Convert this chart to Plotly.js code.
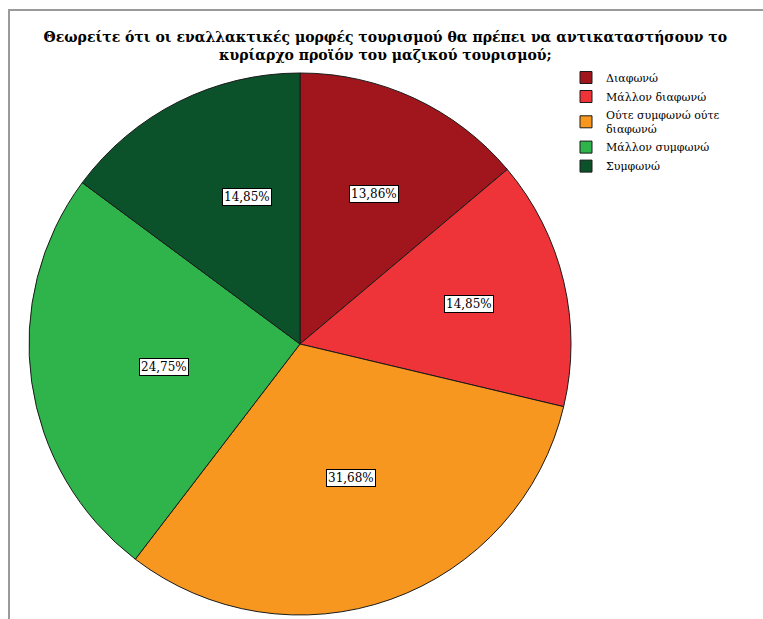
<!DOCTYPE html>
<html>
<head>
<meta charset="utf-8">
<script src="https://cdn.plot.ly/plotly-3.0.1.min.js"></script>
<style>html,body{margin:0;padding:0;background:#fff;}#chart{width:763px;height:619px;}</style>
</head>
<body>
<div id="chart"></div>
<script>
const categories = ["Διαφωνώ", "Μάλλον διαφωνώ", "Ούτε συμφωνώ ούτε<br>διαφωνώ", "Μάλλον συμφωνώ", "Συμφωνώ"];
const values = [13.86, 14.85, 31.68, 24.75, 14.85];
const colors = ["#a1161c", "#ef3439", "#f7971f", "#2eb44a", "#0b522a"];
const titleText = "Θεωρείτε ότι οι εναλλακτικές μορφές τουρισμού θα πρέπει να αντικαταστήσουν το<br>κυρίαρχο προϊόν του μαζικού τουρισμού;";

const SERIF = "DejaVu Serif";
const W = 763, H = 619;
const cx = 300, cy = 344, R = 271;

const total = values.reduce((a, b) => a + b, 0);
const annotations = [];
let cum = 0;
values.forEach((v, i) => {
  const frac = v / total;
  const alpha = Math.PI * frac;
  const mid = 2 * Math.PI * (cum + frac / 2);
  const d = 2 * R * Math.sin(alpha) / (3 * alpha);
  const px = cx + d * Math.sin(mid);
  const py = cy - d * Math.cos(mid);
  annotations.push({
    x: px / W, y: 1 - py / H, xref: "paper", yref: "paper",
    text: v.toFixed(2).replace(".", ",") + "%",
    showarrow: false,
    font: {family: SERIF, size: 12, color: "#000"},
    bgcolor: "#ffffff", bordercolor: "#000", borderwidth: 1, borderpad: 1
  });
  cum += frac;
});

const data = [{
  type: "pie",
  labels: categories,
  values: values,
  sort: false,
  direction: "clockwise",
  rotation: 0,
  marker: {colors: colors, line: {color: "#1a1a1a", width: 1}},
  textinfo: "none",
  hoverinfo: "label+percent",
  domain: {x: [(cx - R) / W, (cx + R) / W], y: [1 - (cy + R) / H, 1 - (cy - R) / H]}
}];

const layout = {
  width: W, height: H,
  margin: {l: 0, r: 0, t: 0, b: 0},
  paper_bgcolor: "#fff",
  font: {family: SERIF},
  title: {text: titleText, x: 0.505, xanchor: "center", y: 1 - 42 / H, yanchor: "top",
    font: {family: SERIF, size: 14, color: "#000", weight: "bold"}},
  showlegend: true,
  legend: {x: 566 / W, y: 1 - 63 / H, xanchor: "left", yanchor: "top",
    font: {family: SERIF, size: 11, color: "#000"},
    itemwidth: 30, tracegroupgap: 0, bgcolor: "rgba(0,0,0,0)"},
  annotations: annotations,
  shapes: [
    {type: "line", xref: "paper", yref: "paper", x0: 8 / W, x1: 1, y0: 1 - 10 / H, y1: 1 - 10 / H, line: {color: "#9a9a9a", width: 2}},
    {type: "line", xref: "paper", yref: "paper", x0: 9 / W, x1: 9 / W, y0: 1 - 10 / H, y1: 0, line: {color: "#9a9a9a", width: 2}}
  ]
};

Plotly.newPlot("chart", data, layout, {displayModeBar: false, staticPlot: true});
</script>
</body>
</html>
